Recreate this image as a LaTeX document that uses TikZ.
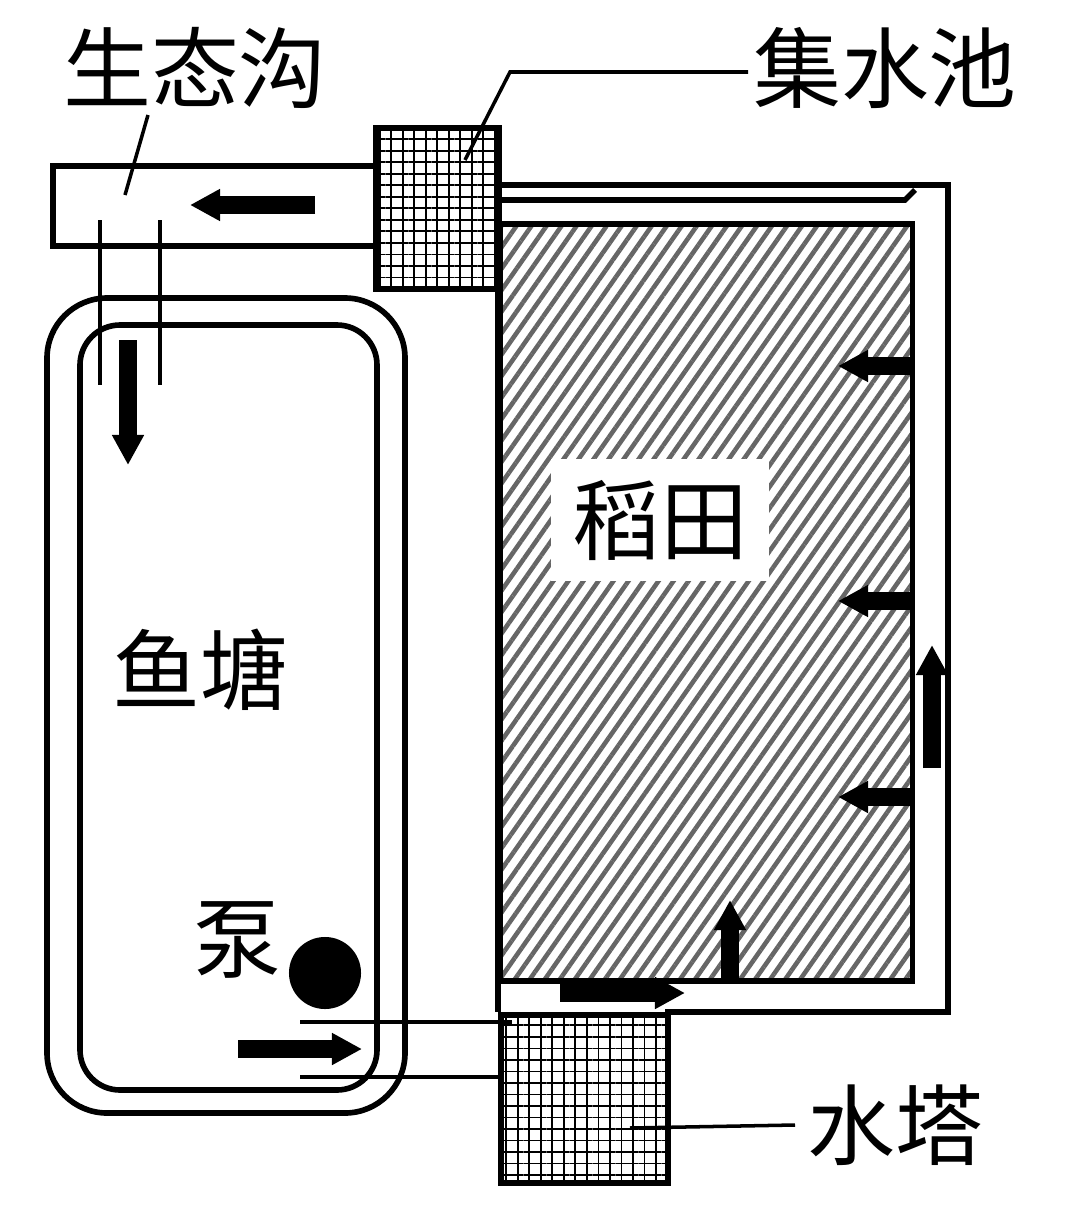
\documentclass[tikz,border=0pt]{standalone}
\usepackage{fontspec}
\newfontfamily\cjk{Noto Sans CJK SC}
\usetikzlibrary{arrows.meta, patterns.meta}

\begin{document}
\begin{tikzpicture}[
    x=0.01cm, y=-0.01cm,
    line width=1.6pt,
    lbl/.style={font=\cjk\fontsize{25}{25}\selectfont, inner sep=2pt},
    tank/.style={draw, pattern={Hatch[angle=0,distance=0.115cm,line width=0.5pt]}},
    flow/.style={-{Triangle[length=0.3cm,width=0.3cm]}, line width=5pt},
    lead/.style={line width=1pt}
]
\useasboundingbox (0,0) rectangle (1080,1221);

% field and channel
\draw (498,185) -- (948,185) -- (948,1012) -- (665,1012);
\draw (498,200) -- (905,200) -- (915,190);
\draw (498,288) -- (498,1012);
\node[draw, minimum width=4.12cm, minimum height=7.56cm, anchor=north west,
      pattern={Lines[angle=55,distance=3.5pt,line width=1.3pt]}, pattern color=gray!80!black]
      (field) at (498,222) {};
\node[lbl, fill=white, inner sep=6pt] (riceLbl) at (660,520) {稻田};

% ditch and tanks
\node[draw, minimum width=3.25cm, minimum height=0.8cm, anchor=north west] (ditch) at (50,163) {};
\node[tank, minimum width=1.23cm, minimum height=1.61cm, anchor=north west] (pool) at (375,127) {};
\node[tank, minimum width=1.67cm, minimum height=1.68cm, anchor=north west] (tower) at (498,1012) {};

% fish pond
\draw[rounded corners=0.6cm] (47,298) rectangle (405,1113);
\draw[rounded corners=0.4cm] (80,325) rectangle (377,1090);
\node[lbl] (pondLbl) at (200,670) {鱼塘};
\node[lbl] (pumpLbl) at (237,940) {泵};
\node[circle, fill=black, minimum size=0.72cm, inner sep=0pt] (pump) at (325,973) {};

% pipes
\draw[lead] (100,220) -- (100,385);
\draw[lead] (160,220) -- (160,385);
\draw[lead] (300,1022) -- (512,1022);
\draw[lead] (300,1077) -- (500,1077);

% flows
\draw[flow] (315,205) -- (190,205);
\draw[flow] (128,340) -- (128,465);
\foreach \yy in {366,601,797} \draw[flow] (912,\yy) -- (838,\yy);
\draw[flow] (932,768) -- (932,645);
\draw[flow] (730,978) -- (730,900);
\draw[flow] (560,993) -- (685,993);
\draw[flow] (238,1049) -- (362,1049);

% labels
\node[lbl] (ditchLbl) at (195,68) {生态沟};
\node[lbl] (poolLbl) at (885,68) {集水池};
\node[lbl] (towerLbl) at (895,1125) {水塔};
\draw[lead] (148,115) -- (125,195);
\draw[lead] (748,72) -- (510,72) -- (465,160);
\draw[lead] (630,1128) -- (795,1125);
\end{tikzpicture}
\end{document}
